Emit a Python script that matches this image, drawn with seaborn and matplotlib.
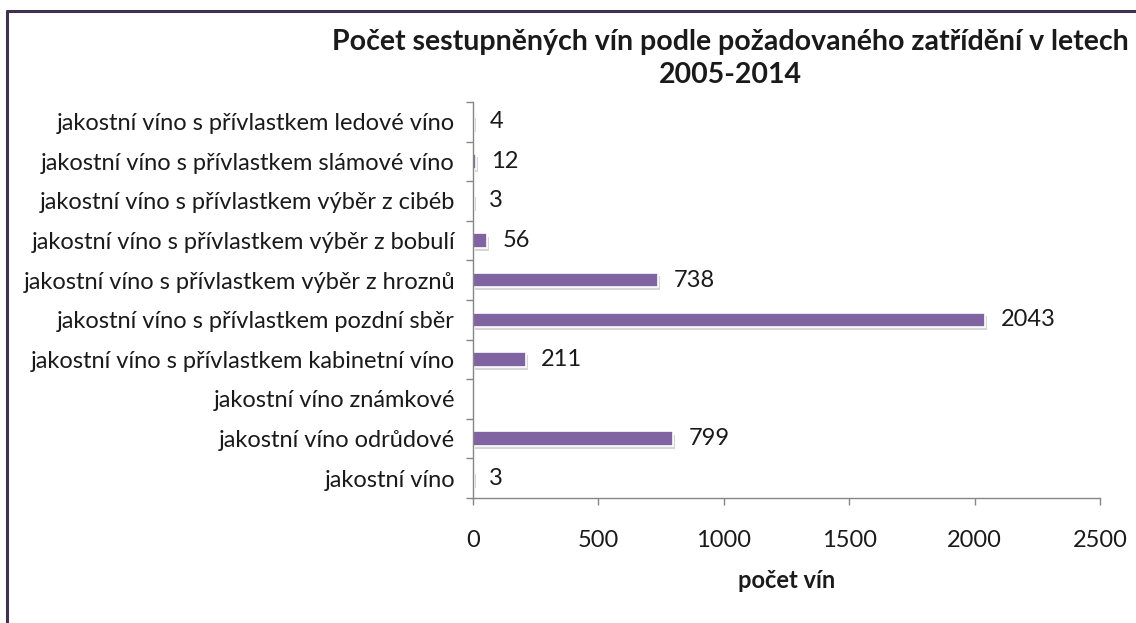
import matplotlib
matplotlib.use("Agg")
import matplotlib.pyplot as plt
import matplotlib.patheffects as pe
from matplotlib.lines import Line2D
import seaborn as sns
import numpy as np

categories = [
    "jakostní víno s přívlastkem ledové víno",
    "jakostní víno s přívlastkem slámové víno",
    "jakostní víno s přívlastkem výběr z cibéb",
    "jakostní víno s přívlastkem výběr z bobulí",
    "jakostní víno s přívlastkem výběr z hroznů",
    "jakostní víno s přívlastkem pozdní sběr",
    "jakostní víno s přívlastkem kabinetní víno",
    "jakostní víno známkové",
    "jakostní víno odrůdové",
    "jakostní víno",
]
values = [4, 12, 3, 56, 738, 2043, 211, 0, 799, 3]
value_labels = ["4", "12", "3", "56", "738", "2043", "211", "", "799", "3"]
x_ticks = [0, 500, 1000, 1500, 2000, 2500]
title = "Počet sestupněných vín podle požadovaného zatřídění v letech\n2005-2014"
x_label = "počet vín"

sns.set_theme(style="white")
plt.rcParams["font.family"] = ["Lato", "DejaVu Sans"]

W, H = 1136, 623
fig = plt.figure(figsize=(W / 100, H / 100), dpi=100)
ax = fig.add_axes([473 / W, 1 - 498 / H, (1100 - 473) / W, (498 - 102) / H])

bar_color = "#8064A2"
sns.barplot(x=values, y=categories, orient="h", color=bar_color, width=0.36,
            saturation=1, ax=ax, errorbar=None)

for p in ax.patches:
    if p.get_width() > 0:
        p.set_edgecolor("white")
        p.set_linewidth(1.2)
        p.set_path_effects([pe.SimplePatchShadow(offset=(1.5, -2.2), shadow_rgbFace="#8a8a8a", alpha=0.35),
                            pe.Normal()])
    else:
        p.set_visible(False)

fs = 17
ax.bar_label(ax.containers[0], labels=value_labels, padding=11, fontsize=fs, color="#1a1a1a")

ax.set_xlim(0, 2500)
ax.set_ylim(len(categories) - 0.5, -0.5)
ax.set_xticks(x_ticks)
ax.set_xticklabels([str(t) for t in x_ticks], fontsize=fs, color="#1a1a1a")
ax.tick_params(axis="y", which="major", length=0, pad=13, labelsize=fs, labelcolor="#1a1a1a")
ax.set_yticks(np.arange(len(categories) + 1) - 0.5, minor=True)
ax.tick_params(axis="y", which="minor", length=5, color="#868686", width=1, left=True)
ax.tick_params(axis="x", which="major", length=5, color="#868686", width=1, bottom=True, pad=18)

for s in ["top", "right"]:
    ax.spines[s].set_visible(False)
for s in ["left", "bottom"]:
    ax.spines[s].set_color("#868686")
    ax.spines[s].set_linewidth(1)

ax.set_xlabel(x_label, fontsize=fs, fontweight="bold", labelpad=13, color="#1a1a1a")
ax.set_ylabel("")

fig.text(730 / W, 1 - 58.5 / H, title, ha="center", va="center", fontsize=20.5,
         fontweight="bold", color="#1a1a1a", linespacing=1.38)

border = "#3f3151"
fig.add_artist(Line2D([7 / W, 1], [1 - 11 / H, 1 - 11 / H], color=border, lw=2.2,
                      transform=fig.transFigure))
fig.add_artist(Line2D([7 / W, 7 / W], [0, 1 - 11 / H], color=border, lw=2.2,
                      transform=fig.transFigure))

fig.savefig("out.png", dpi=100, facecolor="white")
